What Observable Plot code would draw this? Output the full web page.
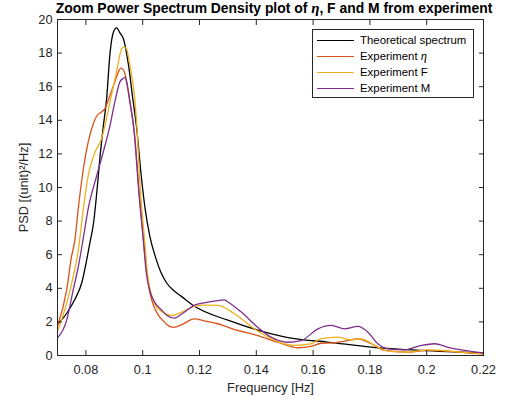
<!DOCTYPE html>
<html><head><meta charset="utf-8">
<script src="https://cdn.jsdelivr.net/npm/d3@7"></script>
<script src="https://cdn.jsdelivr.net/npm/@observablehq/plot@0.6"></script>
<style>
body{margin:0;background:#fff;font-family:"Liberation Sans",Arial,sans-serif;}
#wrap{position:relative;width:505px;height:405px;overflow:hidden;}
#title{position:absolute;top:0px;left:0;width:548px;text-align:center;font-weight:bold;font-size:13.9px;line-height:16px;color:#000;z-index:2;white-space:nowrap;}
#title i{font-family:"Liberation Serif",serif;font-size:15px;}
#legend{position:absolute;left:312px;top:29px;width:160px;height:67px;border:1px solid #262626;background:#fff;z-index:2;font-size:11.4px;color:#000;}
.row{position:absolute;left:0;height:16px;line-height:16px;}
.sw{position:absolute;left:4px;top:8px;width:37px;height:0;border-top:1.3px solid;}
.lab{position:absolute;left:47px;top:0;white-space:nowrap;}
.lab i{font-family:"Liberation Serif",serif;font-size:12.5px;}
</style></head>
<body><div id="wrap"><div id="title"></div><div id="legend"></div></div>
<script>
// ---- data ----
const seriesNames = ["Theoretical spectrum", "Experiment η", "Experiment F", "Experiment M"];
const seriesColors = ["#000000", "#D95319", "#EDB120", "#7E2F8E"];

const freqTheory = [0.070,0.0732,0.0760,0.0785,0.0814,0.0827,0.0840,0.0849,0.0861,0.0873,0.0885,0.0897,0.0908,0.0920,0.0932,0.0949,0.0965,0.0979,0.0993,0.1008,0.1025,0.1049,0.1064,0.1085,0.1110,0.1134,0.1181,0.1300,0.1417,0.1534,0.1650,0.1805,0.1980,0.2200];
const psdTheory  = [1.85,2.5,3.3,4.3,6.7,7.9,10.0,11.7,13.6,15.3,18.0,19.25,19.5,19.2,18.85,17.4,15.3,13.5,11.0,8.8,7.1,5.65,4.95,4.3,3.85,3.55,2.95,2.1,1.45,1.0,0.8,0.5,0.3,0.15];

const freqEta = [0.070,0.0732,0.0749,0.0761,0.0773,0.0791,0.0808,0.0826,0.0840,0.0855,0.0867,0.0885,0.0902,0.0915,0.0923,0.0932,0.0940,0.0955,0.0972,0.0989,0.1005,0.1014,0.1026,0.1040,0.1055,0.1073,0.1090,0.1108,0.1140,0.1181,0.1220,0.1264,0.1334,0.1405,0.1475,0.1546,0.1593,0.1628,0.1664,0.1710,0.1758,0.1805,0.1852,0.1934,0.2005,0.2075,0.2150,0.2200];
const psdEta  = [1.75,3.87,5.85,6.85,8.73,11.1,12.7,13.8,14.3,14.5,14.7,15.5,16.3,16.9,17.1,17.0,16.6,15.1,13.0,9.4,6.5,5.0,3.7,2.9,2.4,2.05,1.78,1.68,1.85,2.18,2.05,1.89,1.49,1.19,0.79,0.46,0.54,0.73,0.75,0.85,0.99,0.7,0.3,0.2,0.3,0.26,0.15,0.1];

const freqF = [0.070,0.0732,0.0755,0.0773,0.0791,0.0808,0.0832,0.0855,0.0867,0.0885,0.0908,0.0926,0.0934,0.0943,0.0953,0.0961,0.0973,0.0980,0.0992,0.1007,0.1016,0.1028,0.1045,0.1064,0.1085,0.1105,0.1140,0.1181,0.1220,0.1264,0.1322,0.1393,0.1452,0.1534,0.1593,0.1628,0.1687,0.1734,0.1769,0.1817,0.1864,0.1934,0.2005,0.2052,0.2122,0.2200];
const psdF  = [1.45,3.08,4.66,6.25,8.73,10.7,12.1,12.9,13.7,15.1,16.9,18.25,18.35,18.25,17.46,16.67,15.1,13.5,9.8,6.8,5.0,3.8,3.0,2.65,2.45,2.38,2.6,2.92,3.0,2.98,2.5,1.59,0.99,0.6,0.7,1.0,1.09,0.93,0.99,0.6,0.26,0.2,0.34,0.3,0.2,0.1];

const freqM = [0.070,0.0732,0.0755,0.0773,0.0791,0.0808,0.0838,0.0861,0.0885,0.0902,0.0920,0.0932,0.0938,0.0943,0.0955,0.0969,0.0987,0.1003,0.1012,0.1024,0.1043,0.1064,0.1085,0.1111,0.1140,0.1181,0.1220,0.1264,0.1287,0.1299,0.1346,0.1405,0.1452,0.1511,0.1558,0.1617,0.1664,0.1711,0.1758,0.1793,0.1828,0.1864,0.1922,0.1981,0.2028,0.2075,0.2134,0.2200];
const psdM  = [1.05,2.08,3.87,5.26,7.0,8.73,10.7,12.1,13.7,15.1,16.3,16.5,16.57,16.3,15.1,13.5,9.6,6.7,5.0,3.9,3.15,2.75,2.4,2.22,2.5,2.98,3.15,3.27,3.31,3.2,2.6,1.68,1.09,0.79,0.89,1.59,1.79,1.59,1.73,1.39,0.7,0.4,0.34,0.6,0.7,0.49,0.3,0.14];

const xTicks = [0.08,0.10,0.12,0.14,0.16,0.18,0.20,0.22];
const xTickLabels = ["0.08","0.1","0.12","0.14","0.16","0.18","0.2","0.22"];
const yTicks = [0,2,4,6,8,10,12,14,16,18,20];
const yTickLabels = ["0","2","4","6","8","10","12","14","16","18","20"];
const xLabel = "Frequency [Hz]";
const yLabel = "PSD [(unit)²/Hz]";
const titleHTML = "Zoom Power Spectrum Density plot of <i>η</i>, F and M from experiment";

// ---- build table ----
const freqs = [freqTheory, freqEta, freqF, freqM];
const psds = [psdTheory, psdEta, psdF, psdM];
const rows = [];
freqs.forEach((fa, s) => fa.forEach((f, i) => rows.push({series: seriesNames[s], f, p: psds[s][i]})));

const axisColor = "#262626";
const chart = Plot.plot({
  width: 505, height: 405,
  marginLeft: 57, marginRight: 22, marginTop: 19, marginBottom: 50,
  style: {fontFamily: "'Liberation Sans', Arial, sans-serif", fontSize: "12.6px", color: "#262626", background: "#fff"},
  x: {domain: [0.07, 0.22]},
  y: {domain: [0, 20]},
  color: {domain: seriesNames, range: seriesColors},
  marks: [
    Plot.line(rows, {x: "f", y: "p", z: "series", stroke: "series", strokeWidth: 1.3, curve: "monotone-x", clip: true}),
    Plot.frame({stroke: axisColor, strokeWidth: 1}),
    Plot.axisX({anchor: "bottom", ticks: xTicks, tickSize: -5, tickPadding: 14, tickFormat: (d, i) => xTickLabels[i], label: xLabel, labelAnchor: "center", labelArrow: "none", labelOffset: 36, stroke: axisColor, fill: "#262626", fontSize: "12.8px"}),
    Plot.axisX({anchor: "top", ticks: xTicks, tickSize: -5, tickFormat: () => "", label: null, stroke: axisColor}),
    Plot.axisY({anchor: "left", ticks: yTicks, tickSize: -5, tickPadding: 10, tickFormat: (d, i) => yTickLabels[i], label: yLabel, labelAnchor: "center", labelArrow: "none", labelOffset: 39, stroke: axisColor, fill: "#262626", fontSize: "12.8px"}),
    Plot.axisY({anchor: "right", ticks: yTicks, tickSize: -5, tickFormat: () => "", label: null, stroke: axisColor})
  ]
});
document.getElementById("wrap").appendChild(chart);
document.getElementById("title").innerHTML = titleHTML;

const leg = document.getElementById("legend");
const legLabels = ["Theoretical spectrum", "Experiment <i>η</i>", "Experiment F", "Experiment M"];
seriesNames.forEach((n, i) => {
  const r = document.createElement("div");
  r.className = "row";
  r.style.top = (2 + i * 16) + "px";
  r.style.width = "160px";
  r.innerHTML = `<div class="sw" style="border-color:${seriesColors[i]}"></div><div class="lab">${legLabels[i]}</div>`;
  leg.appendChild(r);
});
</script></body></html>
